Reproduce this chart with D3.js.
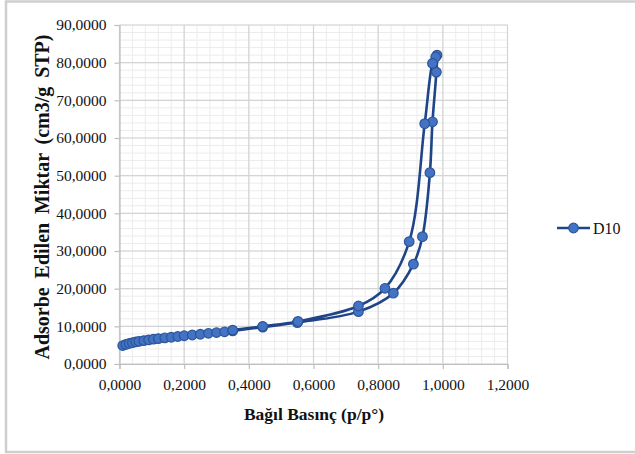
<!DOCTYPE html>
<meta charset="utf-8">
<style>
  body { margin: 0; background: #fff; }
</style>
<body>
<svg width="635" height="454"></svg>
</body>
<script src="https://d3js.org/d3.v7.min.js"></script>
<script>

// adsorption branch (p/p0, cm3/g STP)
var adsX = [0.010, 0.020, 0.030, 0.040, 0.050, 0.060, 0.075, 0.090, 0.105, 0.120,
            0.140, 0.160, 0.180, 0.200, 0.225, 0.250, 0.275, 0.300, 0.325, 0.350,
            0.443, 0.550, 0.739, 0.847, 0.909, 0.937, 0.960, 0.968, 0.980, 0.982];
var adsY = [4.9, 5.2, 5.45, 5.65, 5.85, 6.0, 6.2, 6.4, 6.6, 6.75,
            6.95, 7.1, 7.3, 7.5, 7.7, 7.9, 8.15, 8.35, 8.55, 8.8,
            9.8, 11.0, 13.9, 18.8, 26.5, 33.8, 50.8, 64.3, 77.5, 82.0];
// desorption branch
var desX = [0.978, 0.968, 0.944, 0.896, 0.821, 0.739, 0.552, 0.443, 0.350];
var desY = [81.5, 79.8, 63.8, 32.5, 20.1, 15.4, 11.3, 10.0, 9.0];

var xTicks = [0, 0.2, 0.4, 0.6, 0.8, 1.0, 1.2];
var yTicks = [0, 10, 20, 30, 40, 50, 60, 70, 80, 90];
var seriesName = "D10";

var serif = '"Liberation Serif", "Times New Roman", "DejaVu Serif", serif';

var svg = d3.select("svg");

// outer frame
svg.append("rect")
    .attr("x", 6).attr("y", 1.5)
    .attr("width", 640).attr("height", 450.5)
    .attr("fill", "none").attr("stroke", "#cfcfcf").attr("stroke-width", 2.5);

var x = d3.scaleLinear().domain([0, 1.2]).range([119.5, 507.5]);
var y = d3.scaleLinear().domain([0, 90]).range([364, 25]);

var fmt = d => d.toFixed(4).replace(".", ",");

// minor grid
var g = svg.append("g");
g.selectAll(".vminor").data(d3.range(0, 1.2001, 0.04))
  .enter().append("line")
    .attr("x1", d => x(d)).attr("x2", d => x(d))
    .attr("y1", y(0)).attr("y2", y(90))
    .attr("stroke", "#ececec").attr("stroke-width", 1);
g.selectAll(".hminor").data(d3.range(0, 90.001, 2))
  .enter().append("line")
    .attr("x1", x(0)).attr("x2", x(1.2))
    .attr("y1", d => y(d)).attr("y2", d => y(d))
    .attr("stroke", "#ececec").attr("stroke-width", 1);

// major grid
g.selectAll(".vmajor").data(xTicks)
  .enter().append("line")
    .attr("x1", d => x(d)).attr("x2", d => x(d))
    .attr("y1", y(0)).attr("y2", y(90))
    .attr("stroke", "#d4d4d4").attr("stroke-width", 1.2);
g.selectAll(".hmajor").data(yTicks)
  .enter().append("line")
    .attr("x1", x(0)).attr("x2", x(1.2))
    .attr("y1", d => y(d)).attr("y2", d => y(d))
    .attr("stroke", "#d4d4d4").attr("stroke-width", 1.2);

// axes
var xAxis = svg.append("g")
    .attr("transform", "translate(0," + y(0) + ")")
    .call(d3.axisBottom(x).tickValues(xTicks).tickFormat(fmt).tickSize(5).tickPadding(10));
var yAxis = svg.append("g")
    .attr("transform", "translate(" + x(0) + ",0)")
    .call(d3.axisLeft(y).tickValues(yTicks).tickFormat(fmt).tickSize(5).tickPadding(8));

[xAxis, yAxis].forEach(function(a) {
  a.attr("font-family", serif).attr("font-size", 15.5);
  a.select(".domain").attr("stroke", "#bfbfbf").attr("stroke-width", 1.2);
  a.selectAll(".tick line").attr("stroke", "#bfbfbf").attr("stroke-width", 1.2);
  a.selectAll(".tick text").attr("fill", "#111");
});

// axis titles
svg.append("text")
    .attr("x", 314).attr("y", 420)
    .attr("text-anchor", "middle")
    .attr("font-family", serif).attr("font-size", 17.5).attr("font-weight", "bold")
    .attr("fill", "#111")
    .text("Bağıl Basınç (p/p°)");

var yTitle = svg.append("text")
    .attr("transform", "translate(49,197) rotate(-90)")
    .attr("text-anchor", "middle")
    .attr("font-family", serif).attr("font-size", 20).attr("font-weight", "bold")
    .attr("fill", "#111")
    .text("Adsorbe Edilen Miktar (cm3/g STP)");
// slightly wider word gaps, like the original
var natural = yTitle.node().getComputedTextLength();
yTitle.attr("word-spacing", Math.max(0, (325 - natural) / 4));

// series
var pts = adsX.map((d, i) => [d, adsY[i]])
  .concat(desX.map((d, i) => [d, desY[i]]));

var lineColor = "#1f4487", markFill = "#4472c4", markStroke = "#2a5699";

svg.append("path")
    .datum(pts)
    .attr("fill", "none")
    .attr("stroke", lineColor)
    .attr("stroke-width", 2.6)
    .attr("d", d3.line().curve(d3.curveCatmullRom.alpha(0.5))
      .x(d => x(d[0])).y(d => y(d[1])));

svg.append("g").selectAll("circle")
  .data(pts)
  .enter().append("circle")
    .attr("cx", d => x(d[0])).attr("cy", d => y(d[1]))
    .attr("r", 4.8)
    .attr("fill", markFill)
    .attr("stroke", markStroke).attr("stroke-width", 1.2);

// legend
var lg = svg.append("g").attr("transform", "translate(557,228)");
lg.append("line").attr("x1", 0).attr("x2", 33).attr("y1", 0).attr("y2", 0)
    .attr("stroke", lineColor).attr("stroke-width", 2.6);
lg.append("circle").attr("cx", 16.5).attr("cy", 0).attr("r", 4.8)
    .attr("fill", markFill).attr("stroke", markStroke).attr("stroke-width", 1.2);
lg.append("text").attr("x", 36).attr("y", 5.5)
    .attr("font-family", serif).attr("font-size", 16).attr("fill", "#111")
    .text(seriesName);

</script>
